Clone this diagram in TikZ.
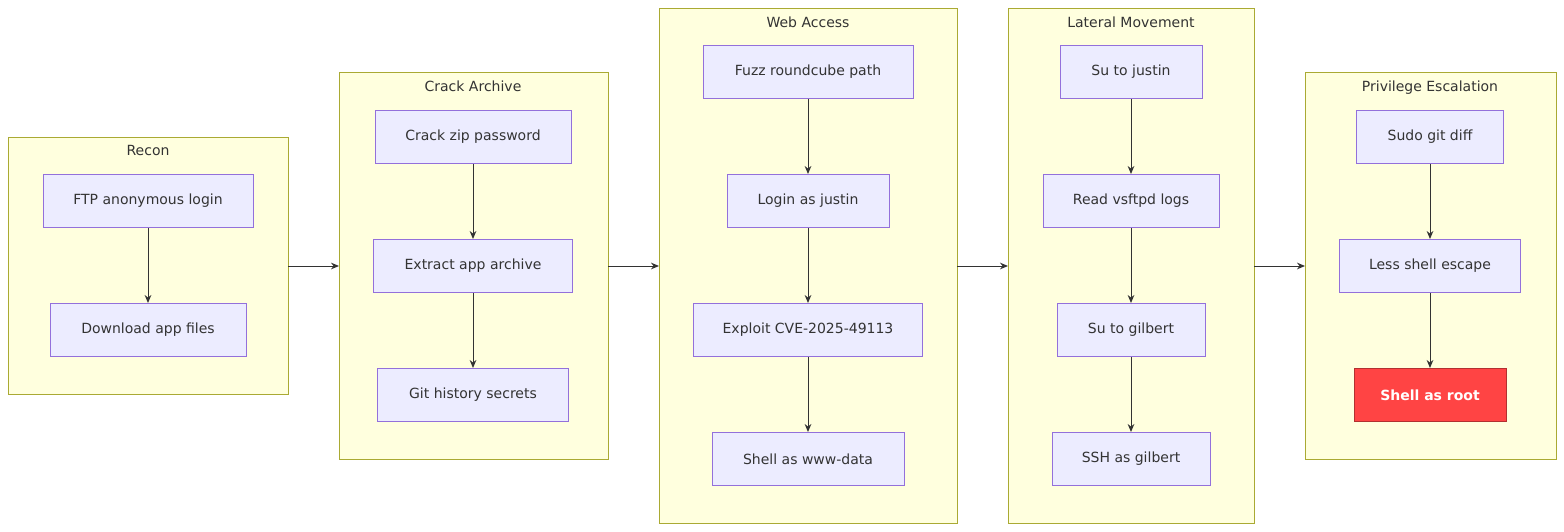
\documentclass[tikz,border=0pt]{standalone}
\usepackage{fontspec}
\setmainfont{DejaVu Sans}
\usetikzlibrary{arrows.meta}
\definecolor{cfill}{HTML}{FFFFDE}
\definecolor{cline}{HTML}{AAAA33}
\definecolor{nfill}{HTML}{ECECFF}
\definecolor{nline}{HTML}{9370DB}
\definecolor{arr}{HTML}{333333}
\definecolor{rootc}{HTML}{FF4444}
\begin{document}
\begin{tikzpicture}[x=0.75pt,y=-0.75pt,
  clus/.style={draw=cline,fill=cfill,line width=0.75pt},
  ctitle/.style={font=\fontsize{10.5}{12}\selectfont,text=arr,anchor=north},
  nd/.style={draw=nline,fill=nfill,line width=0.75pt,minimum height=39.75pt,inner sep=0pt,font=\fontsize{10.5}{12}\selectfont,text=arr},
  ar/.style={draw=arr,line width=0.75pt,-{Stealth[length=6pt,width=5pt]}}]
\useasboundingbox (0,0) rectangle (1564,532);
\fill[white] (0,0) rectangle (1564,532);
% clusters
\draw[clus] (8,137) rectangle (288,394); \node[ctitle] (t1) at (148,141) {Recon};
\draw[clus] (339,72) rectangle (608,459); \node[ctitle] (t2) at (473,76) {Crack Archive};
\draw[clus] (659,8) rectangle (957,523); \node[ctitle] (t3) at (808,12) {Web Access};
\draw[clus] (1008,8) rectangle (1254,523); \node[ctitle] (t4) at (1131,12) {Lateral Movement};
\draw[clus] (1305,72) rectangle (1556,459); \node[ctitle] (t5) at (1430,76) {Privilege Escalation};
\coordinate (c1r) at (288,266); \coordinate (c2l) at (339,266);
\coordinate (c2r) at (608,266); \coordinate (c3l) at (659,266);
\coordinate (c3r) at (957,266); \coordinate (c4l) at (1008,266);
\coordinate (c4r) at (1254,266); \coordinate (c5l) at (1305,266);
% nodes
\node[nd,minimum width=157.5pt] (a1) at (148,201) {FTP anonymous login};
\node[nd,minimum width=147pt] (a2) at (148,330) {Download app files};
\node[nd,minimum width=147pt] (b1) at (473,137) {Crack zip password};
\node[nd,minimum width=149.25pt] (b2) at (473,266) {Extract app archive};
\node[nd,minimum width=143.25pt] (b3) at (473,395) {Git history secrets};
\node[nd,minimum width=157.5pt] (w1) at (808,72) {Fuzz roundcube path};
\node[nd,minimum width=121.5pt] (w2) at (808,201) {Login as justin};
\node[nd,minimum width=171.75pt] (w3) at (808,330) {Exploit CVE-2025-49113};
\node[nd,minimum width=144pt] (w4) at (808,459) {Shell as www-data};
\node[nd,minimum width=106.5pt] (l1) at (1131,72) {Su to justin};
\node[nd,minimum width=132pt] (l2) at (1131,201) {Read vsftpd logs};
\node[nd,minimum width=111pt] (l3) at (1131,330) {Su to gilbert};
\node[nd,minimum width=118.5pt] (l4) at (1131,459) {SSH as gilbert};
\node[nd,minimum width=110.25pt] (p1) at (1430,137) {Sudo git diff};
\node[nd,minimum width=135.75pt] (p2) at (1430,266) {Less shell escape};
\node[nd,minimum width=114pt,fill=rootc,draw=rootc!70!black,text=white,font=\fontsize{10.5}{12}\selectfont\bfseries] (p3) at (1430,395) {Shell as root};
% edges
\draw[ar] (a1) -- (a2);
\draw[ar] (b1) -- (b2); \draw[ar] (b2) -- (b3);
\draw[ar] (w1) -- (w2); \draw[ar] (w2) -- (w3); \draw[ar] (w3) -- (w4);
\draw[ar] (l1) -- (l2); \draw[ar] (l2) -- (l3); \draw[ar] (l3) -- (l4);
\draw[ar] (p1) -- (p2); \draw[ar] (p2) -- (p3);
\draw[ar] (c1r) -- (c2l); \draw[ar] (c2r) -- (c3l); \draw[ar] (c3r) -- (c4l); \draw[ar] (c4r) -- (c5l);
\end{tikzpicture}
\end{document}
